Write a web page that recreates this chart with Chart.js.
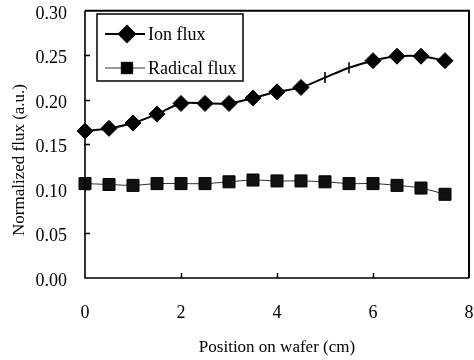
<!DOCTYPE html>
<html>
<head>
<meta charset="utf-8">
<script src="https://cdn.jsdelivr.net/npm/chart.js@4/dist/chart.umd.min.js"></script>
<style>
  html, body { margin: 0; padding: 0; background: #fff; }
  #wrap { width: 474px; height: 360px; position: relative; }
</style>
</head>
<body>
<div id="wrap"><canvas id="c" width="474" height="360"></canvas></div>
<script>
// ---- data ----
const positions = [0, 0.5, 1, 1.5, 2, 2.5, 3, 3.5, 4, 4.5, 5, 5.5, 6, 6.5, 7, 7.5];
const ionFlux = [0.165, 0.168, 0.174, 0.184, 0.196, 0.196, 0.196, 0.202, 0.209, 0.214, 0.225, 0.236, 0.244, 0.249, 0.249, 0.244];
const radicalFlux = [0.106, 0.105, 0.104, 0.106, 0.106, 0.106, 0.108, 0.110, 0.109, 0.109, 0.108, 0.106, 0.106, 0.104, 0.101, 0.094];
const seriesNames = ['Ion flux', 'Radical flux'];
const xTicks = [0, 2, 4, 6, 8];
const yTicks = [0.00, 0.05, 0.10, 0.15, 0.20, 0.25, 0.30];
const xTitle = 'Position on wafer (cm)';
const yTitle = 'Normalized flux (a.u.)';

const FONT = '"Liberation Serif", "Times New Roman", serif';

// Ion points at x=5 and 5.5 appear as vertical dashes in the original figure
const ionStyles = positions.map(p => (p === 5 || p === 5.5) ? 'line' : 'rectRot');
const ionRot = positions.map(p => (p === 5 || p === 5.5) ? 90 : 0);
const ionRad = positions.map(p => (p === 5 || p === 5.5) ? 5.5 : 8);
const ionBW = positions.map(p => (p === 5 || p === 5.5) ? 1.6 : 1);

const framePlugin = {
  id: 'frame',
  afterDatasetsDraw(chart) {
    const {ctx, scales: {x, y}} = chart;
    const L = x.getPixelForValue(0), R = x.getPixelForValue(8);
    const T = y.getPixelForValue(0.3), B = y.getPixelForValue(0);
    ctx.save();
    ctx.strokeStyle = '#000';
    // inward tick marks
    ctx.lineWidth = 1.5;
    ctx.beginPath();
    yTicks.forEach(v => {
      if (v <= 0 || v >= 0.3) return;
      const py = Math.round(y.getPixelForValue(v)) + 0.5;
      ctx.moveTo(L - 1, py); ctx.lineTo(L + 5, py);
    });
    xTicks.forEach(v => {
      if (v <= 0 || v >= 8) return;
      const px = Math.round(x.getPixelForValue(v)) + 0.5;
      ctx.moveTo(px, B); ctx.lineTo(px, B - 5);
    });
    ctx.stroke();
    // frame
    ctx.lineWidth = 1.6;
    ctx.beginPath();
    ctx.moveTo(L, T); ctx.lineTo(L, B); ctx.lineTo(R, B);
    ctx.stroke();
    ctx.lineWidth = 2;
    ctx.beginPath();
    ctx.moveTo(L, T); ctx.lineTo(R, T); ctx.lineTo(R, B);
    ctx.stroke();

    // legend
    const bx = 97, by = 14, bw = 146, bh = 67;
    ctx.fillStyle = '#fff';
    ctx.fillRect(bx, by, bw, bh);
    ctx.lineWidth = 1.5;
    ctx.strokeRect(bx, by, bw, bh);
    const rows = [34, 68];
    chart.data.datasets.forEach((ds, i) => {
      const ry = rows[i];
      ctx.strokeStyle = ds.borderColor;
      ctx.lineWidth = ds.borderWidth;
      ctx.beginPath(); ctx.moveTo(105, ry); ctx.lineTo(145, ry); ctx.stroke();
      ctx.fillStyle = '#000';
      ctx.strokeStyle = '#000';
      Chart.helpers.drawPoint(ctx, {pointStyle: i === 0 ? 'rectRot' : 'rect', radius: 8, rotation: 0, borderWidth: 1}, 127, ry);
      ctx.fillStyle = '#000';
      ctx.font = '18px ' + FONT;
      ctx.textAlign = 'left';
      ctx.textBaseline = 'middle';
      ctx.fillText(ds.label, 148, ry + 1);
    });

    // axis titles
    ctx.fillStyle = '#000';
    ctx.font = '17px ' + FONT;
    ctx.textAlign = 'center';
    ctx.textBaseline = 'middle';
    ctx.fillText(xTitle, (L + R) / 2, 348);
    ctx.translate(20, 160);
    ctx.rotate(-Math.PI / 2);
    ctx.fillText(yTitle, 0, 0);
    ctx.restore();
  }
};

new Chart(document.getElementById('c'), {
  type: 'line',
  data: {
    datasets: [
      {
        label: seriesNames[0],
        data: positions.map((p, i) => ({x: p, y: ionFlux[i]})),
        borderColor: '#000',
        backgroundColor: '#000',
        borderWidth: 2,
        tension: 0.3,
        pointStyle: ionStyles,
        rotation: ionRot,
        pointRadius: ionRad,
        pointBorderWidth: ionBW,
        pointBackgroundColor: '#000',
        pointBorderColor: '#000',
        clip: false
      },
      {
        label: seriesNames[1],
        data: positions.map((p, i) => ({x: p, y: radicalFlux[i]})),
        borderColor: '#333',
        backgroundColor: '#000',
        borderWidth: 1,
        tension: 0.3,
        pointStyle: 'rect',
        pointRadius: 8.5,
        pointBorderWidth: 1,
        pointBackgroundColor: '#111',
        pointBorderColor: '#000',
        clip: false
      }
    ]
  },
  options: {
    responsive: false,
    animation: false,
    devicePixelRatio: 1,
    layout: { autoPadding: false, padding: { top: 10, right: 5, left: 0, bottom: 0 } },
    plugins: { legend: { display: false }, tooltip: { enabled: false } },
    scales: {
      x: {
        type: 'linear',
        min: 0, max: 8,
        afterFit(s) { s.height = 82; },
        afterBuildTicks(s) { s.ticks = xTicks.map(v => ({value: v})); },
        grid: { display: false, drawTicks: true, tickLength: 24 },
        border: { display: false },
        ticks: { color: '#000', font: { family: FONT, size: 18 }, padding: 0, maxRotation: 0,
                 callback: v => String(v) }
      },
      y: {
        type: 'linear',
        min: 0, max: 0.3,
        afterFit(s) { s.width = 85; },
        afterBuildTicks(s) { s.ticks = yTicks.map(v => ({value: v})); },
        grid: { display: false, drawTicks: true, tickLength: 18 },
        border: { display: false },
        ticks: { color: '#000', font: { family: FONT, size: 18 }, padding: 0, labelOffset: 3,
                 callback: v => Number(v).toFixed(2) }
      }
    }
  },
  plugins: [framePlugin]
});
</script>
</body>
</html>
